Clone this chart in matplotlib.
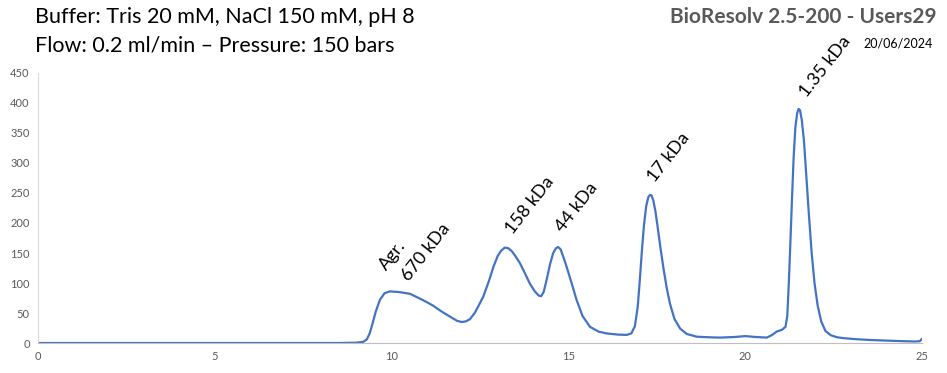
import matplotlib
matplotlib.use("Agg")
import matplotlib.pyplot as plt

# retention time (min) and detector signal
time_min = [0, 5, 8.5, 9.0, 9.2, 9.3, 9.38, 9.45, 9.55, 9.67, 9.8, 9.95, 10.2,
            10.52, 10.8, 11.0, 11.18, 11.4, 11.65, 11.85, 11.98, 12.1, 12.22,
            12.35, 12.45, 12.59, 12.75, 12.88, 13.0, 13.1, 13.2, 13.3, 13.4,
            13.5, 13.63, 13.78, 13.91, 14.05, 14.16, 14.23, 14.3, 14.38, 14.48,
            14.57, 14.65, 14.71, 14.78, 14.86, 14.95, 15.1, 15.23, 15.4, 15.61,
            15.85, 16.08, 16.4, 16.65, 16.78, 16.88, 16.96, 17.02, 17.08, 17.14,
            17.2, 17.26, 17.31, 17.35, 17.4, 17.46, 17.52, 17.6, 17.69, 17.78,
            17.87, 18.0, 18.16, 18.35, 18.63, 19.0, 19.29, 19.7, 20.0, 20.3,
            20.61, 20.75, 20.89, 21.04, 21.14, 21.19, 21.23, 21.27, 21.32, 21.37,
            21.42, 21.47, 21.51, 21.55, 21.6, 21.66, 21.72, 21.8, 21.88, 21.96,
            22.05, 22.15, 22.27, 22.42, 22.6, 22.8, 23.1, 23.53, 24.0, 24.47,
            24.8, 24.94, 25.0]
signal = [0, 0, 0, 0.5, 2, 6, 16, 30, 52, 72, 83, 86, 85,
          82, 74, 68, 62, 53, 44, 37, 35, 36, 40,
          50, 61, 77, 103, 127, 145, 154, 159, 158, 153,
          145, 133, 115, 99, 86, 79, 78, 85, 104, 131,
          150, 158, 160, 156, 143, 127, 98, 72, 45, 27,
          19, 16, 14, 13.5, 16, 28, 60, 105, 155, 198,
          228, 243, 247, 246, 238, 220, 195, 160, 124, 92,
          66, 40, 24, 15, 10.5, 9.5, 9, 10, 11.5, 10,
          9, 13, 19, 22, 27, 45, 95, 155, 235, 310,
          360, 383, 390, 388, 372, 338, 286, 215, 150, 100,
          62, 36, 20, 13, 9.5, 8, 6.5, 5, 4, 3,
          2.5, 3, 7]

# peak labels: text, time, signal at label start
peak_labels = ["Agr.", "670 kDa", "158 kDa", "44 kDa", "17 kDa", "1.35 kDa"]
label_t = [9.85, 10.5, 13.44, 14.84, 17.45, 21.74]
label_v = [119, 101, 180, 183, 266, 408]

x_ticks = [0, 5, 10, 15, 20, 25]
y_ticks = [0, 50, 100, 150, 200, 250, 300, 350, 400, 450]

plt.rcParams["font.family"] = ["Lato", "DejaVu Sans"]

fig = plt.figure(figsize=(9.47, 3.73), dpi=100)
ax = fig.add_axes([38 / 947, 1 - 343 / 373, (922 - 38) / 947, (343 - 73) / 373])

ax.plot(time_min, signal, color="#4472C4", lw=1.6, solid_joinstyle="round")

for txt, t, v in zip(peak_labels, label_t, label_v):
    ax.text(t, v, txt, rotation=52, rotation_mode="anchor", ha="left",
            va="baseline", fontsize=13, color="black")

ax.set_xlim(0, 25)
ax.set_ylim(0, 450)
ax.set_xticks(x_ticks)
ax.set_yticks(y_ticks)
ax.tick_params(length=0, labelsize=8, colors="#595959", pad=6)
for side in ("top", "right"):
    ax.spines[side].set_visible(False)
ax.spines["left"].set_color("#d9d9d9")
ax.spines["bottom"].set_color("#bfbfbf")

fig.text(35 / 947, 1 - 17 / 373, "Buffer: Tris 20 mM, NaCl 150 mM, pH 8",
         fontsize=15.5, va="center", ha="left")
fig.text(35 / 947, 1 - 45 / 373, "Flow: 0.2 ml/min \u2013 Pressure: 150 bars",
         fontsize=15.5, va="center", ha="left")
fig.text(937 / 947, 1 - 17 / 373, "BioResolv 2.5-200 - Users29",
         fontsize=15, fontweight="bold", color="#595959", va="center", ha="right")
fig.text(933 / 947, 1 - 44 / 373, "20/06/2024", fontsize=9, va="center", ha="right")

fig.savefig("out.png", dpi=100)
